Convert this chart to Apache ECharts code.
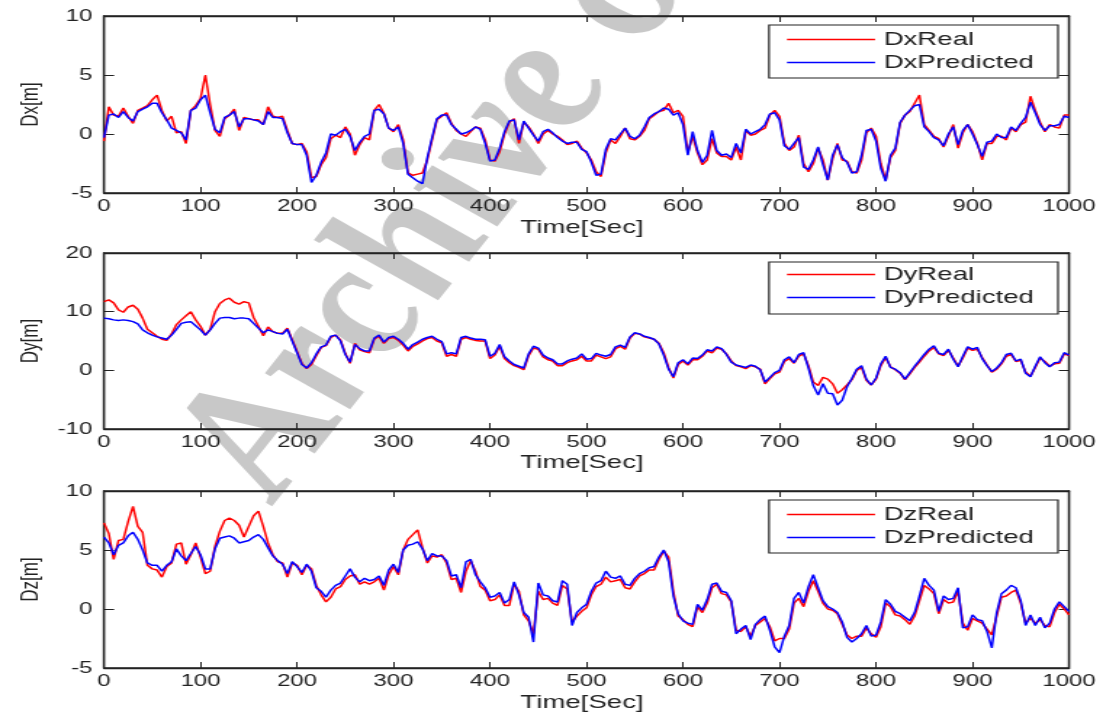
<!DOCTYPE html>
<html>
<head>
<meta charset="utf-8">
<script src="https://cdn.jsdelivr.net/npm/echarts@6/dist/echarts.min.js"></script>
<style>
  html, body { margin: 0; padding: 0; background: #fff; overflow: hidden; }
  /* The figure is laid out on a narrower canvas and stretched horizontally */
  #chart { width: 760px; height: 715px; transform-origin: 0 0; }
</style>
</head>
<body>
<div id="chart"></div>
<script>
// Sample spacing of the logged position errors, in seconds
const sampleStep = 5;

// Position error along x, metres
const dxReal = [
  -0.6, 2.3, 1.6, 1.5, 2.2, 1.5, 0.9, 2.0, 2.2, 2.4,
  2.9, 3.3, 2.0, 1.1, 1.5, 0.1, 0.2, -0.8, 2.0, 2.4,
  3.0, 5.0, 2.5, 0.3, -0.2, 1.3, 1.6, 2.1, 0.3, 1.4,
  1.3, 1.2, 1.2, 0.8, 2.3, 1.5, 1.4, 1.5, 0.3, -0.8,
  -0.9, -0.8, -1.5, -3.7, -3.6, -2.6, -2.0, -0.4, -0.1, -0.3,
  0.6, 0.0, -1.8, -0.9, -0.3, -0.5, 2.0, 2.5, 1.75, 0.5,
  0.2, 0.8, -0.5, -3.3, -3.5, -3.4, -3.3, -2.2, -0.5, 1.2,
  1.5, 1.8, 0.9, 0.3, 0.0, -0.2, 0.2, 0.6, 0.5, -0.5,
  -2.2, -2.3, -1.5, 0.0, 1.0, 1.3, -0.8, 1.0, 0.6, 0.0,
  -0.8, 0.0, 0.3, 0.0, -0.2, -0.5, -0.9, -0.8, -0.6, -1.2,
  -1.6, -2.2, -3.2, -3.6, -1.6, -0.5, -0.8, -0.2, 0.5, -0.4,
  -0.5, -0.2, 0.3, 1.3, 1.6, 1.9, 2.0, 2.6, 1.8, 2.0,
  1.5, -1.6, -0.2, -1.6, -2.6, -2.2, -0.4, -1.6, -1.9, -1.9,
  -2.2, -1.1, -2.2, 0.3, -0.1, 0.0, 0.3, 0.5, 1.6, 2.0,
  1.5, -0.8, -1.4, -1.1, -0.1, -2.5, -3.2, -2.5, -1.2, -2.2,
  -3.9, -2.1, -0.8, -2.2, -2.3, -3.2, -3.3, -2.2, 0.1, 0.5,
  -0.2, -2.5, -3.9, -2.0, -1.4, 0.9, 1.6, 1.9, 2.6, 3.3,
  0.8, 0.3, -0.2, -0.4, -1.1, -0.2, 0.8, -1.2, 0.1, 0.8,
  0.2, -0.8, -2.2, -0.8, -0.8, -0.2, -0.2, -0.5, 0.5, 0.2,
  0.8, 1.0, 3.2, 2.0, 1.0, 0.2, 0.8, 0.6, 0.5, 1.6,
  1.6
];
const dxPredicted = [
  -0.3, 1.6, 1.7, 1.4, 1.9, 1.4, 1.1, 1.9, 2.1, 2.3,
  2.6, 2.6, 1.8, 1.2, 0.5, 0.3, 0.1, -0.5, 2.0, 2.2,
  2.9, 3.3, 1.8, 0.4, 0.1, 1.4, 1.6, 1.9, 0.6, 1.3,
  1.3, 1.2, 1.1, 0.8, 1.9, 1.4, 1.4, 1.3, 0.1, -0.8,
  -0.9, -0.9, -1.8, -4.1, -3.5, -2.4, -1.6, 0.0, -0.1, 0.2,
  0.4, -0.2, -1.4, -0.7, -0.2, 0.0, 2.0, 2.1, 1.7, 0.5,
  0.3, 0.6, -0.8, -3.4, -3.7, -4.0, -4.2, -2.0, -0.3, 1.3,
  1.6, 1.6, 0.8, 0.4, 0.0, 0.1, 0.3, 0.6, 0.4, -0.8,
  -2.3, -2.2, -1.2, 0.2, 1.1, 1.2, -0.5, 1.1, 0.5, -0.1,
  -0.6, 0.2, 0.4, 0.1, -0.3, -0.6, -0.8, -0.7, -0.7, -1.3,
  -1.5, -2.4, -3.5, -3.4, -1.3, -0.4, -0.5, 0.0, 0.5, -0.2,
  -0.4, -0.1, 0.6, 1.4, 1.7, 1.9, 2.2, 2.1, 1.6, 1.8,
  0.8, -1.8, 0.2, -1.4, -2.4, -1.8, 0.3, -1.4, -1.8, -1.7,
  -2.0, -0.8, -1.6, 0.4, 0.0, 0.2, 0.4, 0.8, 1.7, 1.8,
  1.2, -1.0, -1.3, -0.8, -0.3, -2.8, -3.0, -2.2, -1.1, -2.6,
  -3.9, -1.8, -0.9, -2.0, -2.4, -3.3, -3.2, -1.8, 0.3, 0.4,
  -0.6, -2.9, -4.0, -1.8, -1.2, 1.0, 1.6, 2.0, 2.4, 2.5,
  0.6, 0.2, -0.3, -0.5, -1.0, 0.0, 0.6, -0.9, 0.3, 0.8,
  0.0, -0.9, -1.9, -0.7, -0.6, 0.0, -0.3, -0.3, 0.6, 0.3,
  0.9, 1.4, 2.7, 1.8, 0.8, 0.3, 0.7, 0.7, 0.8, 1.5,
  1.4
];

// Position error along y, metres
const dyReal = [
  11.7, 12.0, 11.5, 10.3, 9.9, 10.8, 11.1, 10.4, 8.9, 7.0,
  6.4, 5.8, 5.3, 5.1, 6.2, 7.8, 8.6, 9.3, 10.0, 8.6,
  7.5, 6.0, 7.0, 10.0, 11.4, 12.0, 12.3, 11.6, 11.3, 11.7,
  11.5, 9.0, 7.5, 5.9, 7.4, 6.6, 6.3, 6.3, 7.2, 5.2,
  3.2, 1.2, 0.3, 1.0, 2.5, 3.9, 4.2, 5.6, 6.0, 5.2,
  2.9, 1.2, 4.6, 3.5, 3.2, 3.0, 5.3, 5.8, 4.6, 5.4,
  5.6, 5.1, 4.3, 3.3, 4.1, 4.5, 5.0, 5.4, 5.6, 5.0,
  4.7, 2.4, 2.7, 2.4, 5.3, 5.6, 5.3, 5.1, 5.0, 5.0,
  2.0, 2.6, 4.1, 2.0, 1.3, 0.8, 0.5, 0.1, 2.5, 3.8,
  3.6, 2.3, 1.8, 1.6, 0.8, 0.8, 1.3, 1.6, 1.8, 2.4,
  1.6, 1.6, 2.6, 2.3, 2.0, 2.3, 3.7, 4.1, 3.6, 5.5,
  6.3, 6.2, 5.7, 5.5, 5.3, 4.6, 3.0, 0.5, -1.3, 1.0,
  1.6, 0.9, 1.8, 1.8, 2.4, 3.3, 3.0, 3.8, 3.6, 2.8,
  1.6, 0.8, 0.6, 0.3, 0.8, 0.6, 0.2, -2.3, -1.4, -0.6,
  -0.3, 1.5, 2.0, 1.2, 2.4, 2.8, 0.8, -2.0, -2.6, -1.2,
  -1.5, -2.3, -3.9, -3.3, -2.5, -1.6, 0.0, 0.5, -1.7, -2.5,
  -1.5, 0.8, 2.2, 0.6, 0.1, -0.5, -1.6, -0.6, 0.5, 1.4,
  2.4, 3.3, 3.9, 2.8, 2.5, 3.4, 2.1, 0.7, 2.1, 3.8,
  3.4, 3.6, 2.2, 0.9, -0.3, 0.2, 1.1, 2.4, 2.7, 1.5,
  1.7, -0.3, -1.0, 0.5, 2.1, 1.5, 0.7, 1.1, 1.2, 2.8,
  2.5
];
const dyPredicted = [
  8.9, 8.8, 8.6, 8.5, 8.6, 8.5, 8.3, 7.9, 6.9, 6.4,
  6.0, 5.7, 5.5, 5.3, 6.0, 7.0, 8.0, 8.2, 8.3, 7.6,
  6.9, 6.0, 6.9, 8.0, 8.9, 9.0, 9.0, 8.8, 8.9, 8.9,
  8.8, 8.0, 7.2, 6.4, 6.9, 6.6, 6.3, 6.2, 7.0, 5.0,
  3.0, 1.0, 0.4, 1.3, 2.8, 4.0, 4.3, 5.8, 6.0, 5.0,
  2.7, 1.4, 4.4, 3.7, 3.3, 3.3, 5.5, 6.0, 4.8, 5.6,
  5.8, 5.3, 4.6, 3.6, 4.4, 4.8, 5.3, 5.6, 5.8, 5.3,
  4.9, 2.8, 3.0, 2.8, 5.6, 5.8, 5.5, 5.3, 5.3, 5.2,
  2.4, 2.9, 4.4, 2.3, 1.6, 1.0, 0.7, 0.4, 2.8, 4.1,
  3.8, 2.6, 2.1, 1.8, 1.1, 1.1, 1.6, 1.9, 2.1, 2.8,
  1.9, 2.0, 2.9, 2.6, 2.4, 2.7, 4.0, 4.3, 3.9, 5.7,
  6.4, 6.2, 5.8, 5.6, 5.3, 4.5, 2.6, 0.2, -1.1, 1.3,
  1.8, 1.1, 2.1, 2.0, 2.6, 3.5, 3.3, 4.0, 3.7, 2.7,
  1.4, 0.9, 0.7, 0.5, 0.9, 0.7, 0.1, -2.0, -1.2, -0.4,
  0.0, 1.8, 2.3, 1.3, 2.7, 3.0, 0.4, -2.6, -4.2, -2.3,
  -3.9, -4.0, -5.9, -5.1, -2.8, -1.4, 0.2, 0.8, -1.5, -2.5,
  -1.3, 1.1, 2.4, 0.5, 0.2, -0.4, -1.5, -0.4, 0.7, 1.7,
  2.7, 3.6, 4.2, 2.9, 2.7, 3.6, 1.9, 0.6, 2.4, 4.0,
  3.6, 3.9, 2.0, 0.8, -0.2, 0.4, 1.3, 2.7, 2.9, 1.6,
  1.9, -0.5, -1.1, 0.7, 2.3, 1.3, 0.6, 1.3, 1.4, 3.0,
  2.6
];

// Position error along z, metres
const dzReal = [
  7.3, 6.4, 4.2, 5.8, 5.9, 7.4, 8.7, 7.0, 6.5, 3.7,
  3.4, 3.3, 2.7, 3.6, 3.9, 5.5, 5.6, 3.8, 4.6, 5.6,
  4.4, 3.0, 3.2, 5.3, 6.6, 7.5, 7.7, 7.5, 7.1, 6.1,
  7.0, 7.9, 8.3, 7.0, 5.6, 4.6, 4.0, 3.9, 2.7, 3.9,
  3.7, 2.9, 3.7, 3.4, 2.0, 1.2, 0.6, 1.0, 1.7, 1.9,
  2.5, 2.8, 2.9, 2.1, 2.3, 2.1, 2.3, 2.6, 1.6, 2.9,
  3.6, 2.9, 5.0, 5.9, 6.3, 6.7, 5.2, 3.9, 4.5, 4.4,
  4.6, 3.9, 2.5, 2.6, 1.4, 3.2, 4.1, 3.2, 1.9, 1.6,
  0.7, 0.8, 1.2, 0.3, 0.3, 2.1, 1.5, -0.5, -1.0, -2.1,
  1.5, 0.8, 0.9, 0.5, 0.3, 2.0, 1.7, -1.1, -0.6, -0.2,
  0.1, 1.2, 1.9, 2.1, 2.7, 2.3, 2.4, 2.5, 1.8, 1.7,
  2.3, 2.8, 3.0, 3.3, 3.3, 4.2, 4.9, 4.4, 1.5, -0.6,
  -0.9, -1.3, -1.5, 0.2, -0.3, 0.5, 1.8, 2.1, 1.3, 1.2,
  0.6, -1.8, -1.9, -1.5, -2.3, -1.4, -1.1, -0.8, -1.5, -2.7,
  -2.5, -2.5, -1.7, 0.5, 0.9, 0.2, 1.5, 2.4, 1.5, 0.5,
  0.0, -0.1, -0.4, -1.3, -2.2, -2.5, -2.3, -2.3, -1.6, -2.1,
  -2.4, -1.5, 0.5, 0.2, -0.5, -0.6, -0.9, -1.3, -0.6, 0.7,
  2.0, 1.7, 1.3, -0.4, 0.8, 0.5, 0.6, 1.5, -1.2, -1.8,
  -0.8, -1.0, -1.2, -1.7, -2.2, -0.6, 1.0, 1.1, 1.4, 1.6,
  0.5, -1.2, -0.8, -1.2, -0.9, -1.4, -1.5, -0.3, 0.4, 0.0,
  -0.5
];
const dzPredicted = [
  6.1, 5.6, 4.6, 5.4, 5.6, 6.2, 6.5, 5.9, 5.0, 3.9,
  3.7, 3.7, 3.2, 3.7, 4.0, 5.1, 4.5, 4.1, 4.7, 5.3,
  4.6, 3.4, 3.4, 5.1, 6.0, 6.1, 6.2, 6.0, 5.6, 5.7,
  5.8, 6.1, 6.3, 5.9, 5.2, 4.5, 4.1, 3.8, 3.0, 4.0,
  3.6, 3.1, 3.8, 3.2, 1.8, 1.5, 1.0, 1.6, 2.0, 2.2,
  2.8, 3.4, 2.7, 2.3, 2.6, 2.4, 2.5, 2.8, 2.0, 3.3,
  3.8, 3.1, 5.0, 5.4, 5.5, 5.7, 5.1, 4.1, 4.7, 4.5,
  4.5, 4.1, 2.8, 2.9, 1.8, 4.0, 4.2, 2.9, 2.3, 1.8,
  1.0, 1.1, 1.4, 0.5, 0.8, 2.3, 1.2, -0.3, -0.7, -2.8,
  2.2, 1.2, 1.1, 0.7, 0.6, 2.4, 2.1, -1.4, -0.3, 0.1,
  0.4, 1.5, 2.2, 2.4, 3.2, 2.7, 2.6, 2.8, 2.1, 2.0,
  2.6, 3.0, 3.2, 3.5, 3.6, 4.4, 5.0, 4.0, 1.1, -0.4,
  -1.0, -1.2, -1.3, 0.4, -0.1, 0.8, 2.1, 2.2, 1.5, 1.4,
  0.7, -2.1, -1.7, -1.4, -2.6, -1.3, -0.9, -0.6, -1.8, -3.2,
  -3.7, -2.3, -1.4, 0.9, 1.4, 0.5, 1.9, 2.9, 1.8, 0.7,
  0.2, 0.0, -0.3, -1.1, -2.4, -2.8, -2.5, -2.1, -1.4, -2.3,
  -2.2, -1.1, 0.8, 0.4, -0.2, -0.4, -0.7, -1.0, -0.3, 1.1,
  2.6, 2.0, 1.6, -0.2, 1.1, 0.8, 0.9, 1.8, -1.6, -1.5,
  -0.5, -0.9, -1.0, -1.9, -3.3, -0.3, 1.3, 1.6, 2.0, 1.8,
  0.7, -1.4, -0.5, -1.4, -0.7, -1.6, -1.2, 0.0, 0.6, 0.2,
  -0.2
];

// Panel definitions: labels and y ranges
const panels = [
  { ylabel: 'Dx[m]', real: dxReal, pred: dxPredicted, realName: 'DxReal', predName: 'DxPredicted', yMin: -5, yMax: 10, yStep: 5 },
  { ylabel: 'Dy[m]', real: dyReal, pred: dyPredicted, realName: 'DyReal', predName: 'DyPredicted', yMin: -10, yMax: 20, yStep: 10 },
  { ylabel: 'Dz[m]', real: dzReal, pred: dzPredicted, realName: 'DzReal', predName: 'DzPredicted', yMin: -5, yMax: 10, yStep: 5 }
];
const xLabel = 'Time[Sec]';
const xMin = 0, xMax = 1000, xStep = 100;
const realColor = '#ff0000';
const predColor = '#0000ff';

// ---- layout (canvas units, before the horizontal stretch) ----
const canvasW = 760;
const stretch = 1103 / canvasW;
const gridLeft = 104 / stretch;
const gridRight = canvasW - 1069 / stretch;
const gridTops = [16, 253, 491];
const gridHeights = [177, 176, 177];
const xLabelY = [228, 463, 703];
const legendTops = [30, 265, 505];
const legendRowGap = 23;
const legendBoxes = [[25, 53], [262, 52], [500, 53]];

const el = document.getElementById('chart');
el.style.transform = 'scaleX(' + stretch + ')';

const FONT = 'Liberation Sans, Arial, sans-serif';
const frame = '#222';
const times = dxReal.map((_, i) => i * sampleStep);
const pairs = arr => arr.map((v, i) => [times[i], v]);
const plain = v => String(v);

const grid = [], xAxis = [], yAxis = [], series = [], legend = [], graphics = [];

panels.forEach((p, k) => {
  grid.push({ left: gridLeft, right: gridRight, top: gridTops[k], height: gridHeights[k],
    show: true, borderColor: frame, borderWidth: 1.3, containLabel: false });

  const xBase = { type: 'value', gridIndex: k, min: xMin, max: xMax, interval: xStep,
    splitLine: { show: false },
    axisLine: { show: true, onZero: false, lineStyle: { color: frame, width: 1.3 } },
    axisTick: { show: true, inside: true, length: 6, lineStyle: { color: frame, width: 1 } } };
  xAxis.push(Object.assign({}, xBase, { position: 'bottom',
    axisLabel: { show: true, margin: 5, color: '#222', fontSize: 16.5, fontFamily: FONT, formatter: plain } }));
  xAxis.push(Object.assign({}, xBase, { position: 'top', axisLabel: { show: false } }));

  const yBase = { type: 'value', gridIndex: k, min: p.yMin, max: p.yMax, interval: p.yStep,
    splitLine: { show: false },
    axisLine: { show: true, onZero: false, lineStyle: { color: frame, width: 1.3 } },
    axisTick: { show: true, inside: true, length: 7, lineStyle: { color: frame, width: 1 } } };
  yAxis.push(Object.assign({}, yBase, { position: 'left',
    axisLabel: { show: true, margin: 8, color: '#222', fontSize: 16.5, fontFamily: FONT, formatter: plain } }));
  yAxis.push(Object.assign({}, yBase, { position: 'right', axisLabel: { show: false } }));

  series.push({ type: 'line', name: p.realName, xAxisIndex: 2 * k, yAxisIndex: 2 * k,
    color: realColor, data: pairs(p.real), symbol: 'none',
    lineStyle: { color: realColor, width: 1.5 }, itemStyle: { color: realColor }, z: 2 });
  series.push({ type: 'line', name: p.predName, xAxisIndex: 2 * k, yAxisIndex: 2 * k,
    color: predColor, data: pairs(p.pred), symbol: 'none',
    lineStyle: { color: predColor, width: 1.5 }, itemStyle: { color: predColor }, z: 3 });

  // Legend text comes from the legend component; its icons are hidden and
  // the line samples are drawn as plain strokes in the series colours.
  legend.push({
    data: [p.realName, p.predName],
    orient: 'vertical',
    left: 787 / stretch, top: legendTops[k], itemWidth: 88 / stretch, itemHeight: 14, itemGap: legendRowGap - 19,
    padding: 0,
    itemStyle: { opacity: 0 }, lineStyle: { opacity: 0 },
    textStyle: { color: '#222', fontSize: 19, lineHeight: 19, fontFamily: FONT } });

  graphics.push({ type: 'rect', z: 1,
    shape: { x: 769 / stretch, y: legendBoxes[k][0], width: (1058 - 769) / stretch, height: legendBoxes[k][1] },
    style: { fill: '#fff', stroke: frame, lineWidth: 1.2 } });
  [realColor, predColor].forEach((c, r) => {
    const y = legendTops[k] + 9.5 + r * legendRowGap;
    graphics.push({ type: 'line', z: 2,
      shape: { x1: 787 / stretch, y1: y, x2: 875 / stretch, y2: y },
      style: { stroke: c, lineWidth: 1.6 } });
  });

  graphics.push({ type: 'text', x: 31 / stretch, y: gridTops[k] + gridHeights[k] / 2, rotation: Math.PI / 2,
    style: { text: p.ylabel, fill: '#222', fontSize: 17, fontFamily: FONT, textAlign: 'center', textVerticalAlign: 'middle' } });

  graphics.push({ type: 'text', x: 582 / stretch, y: xLabelY[k],
    style: { text: xLabel, fill: '#222', fontSize: 19, fontFamily: FONT, textAlign: 'center', textVerticalAlign: 'middle' } });
});

// Grey archive stamp running diagonally behind the panels
graphics.unshift({ type: 'text', x: 223, y: 517, rotation: 61 * Math.PI / 180, z: -10,
  style: { text: 'Archive of SID', fill: '#c8c8c8', fontSize: 150, fontStyle: 'italic', fontWeight: 'bold',
    fontFamily: 'Liberation Serif, DejaVu Serif, serif', textAlign: 'left', textVerticalAlign: 'bottom' } });

const chart = echarts.init(el, null, { renderer: 'canvas' });
chart.setOption({
  animation: false,
  backgroundColor: '#fff',
  color: [realColor, predColor],
  grid, xAxis, yAxis, series, legend,
  graphic: { elements: graphics }
});
</script>
</body>
</html>
